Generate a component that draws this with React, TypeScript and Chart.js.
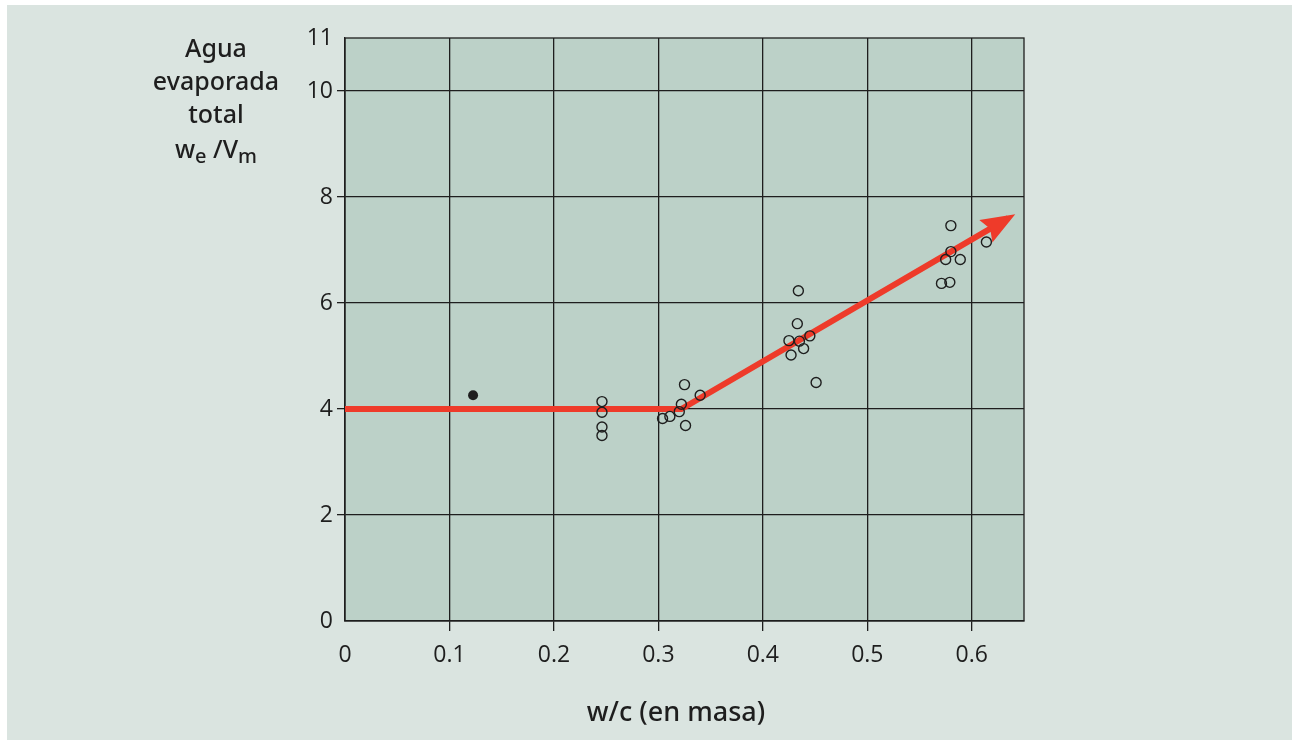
import React, { useEffect, useRef } from "react";
import { Chart, registerables } from "chart.js";

Chart.register(...registerables);

// Axis ticks
const xTickValues = [0, 0.1, 0.2, 0.3, 0.4, 0.5, 0.6];
const yTickValues = [0, 2, 4, 6, 8, 10, 11];

// Red trend line (flat, then rising with an arrow head at the end)
const trendX = [0, 0.322, 0.635];
const trendY = [4.0, 4.0, 7.6];

// Open circles (measured samples)
const openX = [
  0.246, 0.246, 0.246, 0.246,
  0.304, 0.311, 0.32, 0.322, 0.325, 0.326, 0.34,
  0.434, 0.433, 0.425, 0.435, 0.445, 0.439, 0.427, 0.451,
  0.58, 0.58, 0.575, 0.589, 0.571, 0.579, 0.614,
];
const openY = [
  4.14, 3.94, 3.66, 3.5,
  3.82, 3.86, 3.95, 4.09, 4.46, 3.69, 4.26,
  6.23, 5.61, 5.29, 5.28, 5.38, 5.14, 5.02, 4.5,
  7.46, 6.97, 6.82, 6.82, 6.37, 6.39, 7.15,
];

// Filled point
const filledX = [0.1226];
const filledY = [4.26];

const PANEL_BG = "#dae4e0";
const PLOT_BG = "#bcd1c8";
const INK = "#1e1e1e";
const RED = "#ee3b2a";

const plotDecor = {
  id: "plotDecor",
  beforeDraw(chart: any) {
    const { ctx, chartArea: a } = chart;
    ctx.save();
    ctx.fillStyle = PLOT_BG;
    ctx.fillRect(a.left, a.top, a.right - a.left, a.bottom - a.top);
    ctx.restore();
  },
  beforeDatasetsDraw(chart: any) {
    const { ctx, chartArea: a } = chart;
    ctx.save();
    ctx.strokeStyle = INK;
    ctx.lineWidth = 1.3;
    ctx.strokeRect(a.left, a.top, a.right - a.left, a.bottom - a.top);
    ctx.restore();
  },
  afterDatasetsDraw(chart: any) {
    const meta = chart.getDatasetMeta(0);
    const pts = meta.data;
    if (!pts || pts.length < 2) return;
    const p1 = pts[pts.length - 2];
    const p2 = pts[pts.length - 1];
    const dx = p2.x - p1.x;
    const dy = p2.y - p1.y;
    const len = Math.hypot(dx, dy);
    const ux = dx / len;
    const uy = dy / len;
    const tipX = p2.x + ux * 8;
    const tipY = p2.y + uy * 8;
    const headLen = 34;
    const halfW = 13;
    const bx = tipX - ux * headLen;
    const by = tipY - uy * headLen;
    const { ctx } = chart;
    ctx.save();
    ctx.fillStyle = RED;
    ctx.beginPath();
    ctx.moveTo(tipX, tipY);
    ctx.lineTo(bx - uy * halfW, by + ux * halfW);
    ctx.lineTo(bx + ux * 5, by + uy * 5);
    ctx.lineTo(bx + uy * halfW, by - ux * halfW);
    ctx.closePath();
    ctx.fill();
    ctx.restore();
  },
};

export default function App() {
  const canvasRef = useRef<HTMLCanvasElement | null>(null);

  useEffect(() => {
    if (!canvasRef.current) return;
    const tickFont = { family: "'Open Sans', 'Noto Sans', sans-serif", size: 23, weight: 400 as any };
    const chart = new Chart(canvasRef.current, {
      type: "scatter",
      data: {
        datasets: [
          {
            type: "line",
            label: "tendencia",
            data: trendX.map((x, i) => ({ x, y: trendY[i] })),
            borderColor: RED,
            borderWidth: 6,
            pointRadius: 0,
            fill: false,
            tension: 0,
            borderCapStyle: "butt",
            borderJoinStyle: "miter",
            order: 3,
          } as any,
          {
            label: "muestras",
            data: openX.map((x, i) => ({ x, y: openY[i] })),
            pointRadius: 5,
            pointBackgroundColor: "rgba(0,0,0,0)",
            pointBorderColor: INK,
            pointBorderWidth: 1.4,
            order: 1,
          },
          {
            label: "punto",
            data: filledX.map((x, i) => ({ x, y: filledY[i] })),
            pointRadius: 5,
            pointBackgroundColor: INK,
            pointBorderColor: INK,
            pointBorderWidth: 0,
            order: 2,
          },
        ],
      },
      options: {
        animation: false,
        responsive: false,
        maintainAspectRatio: false,
        layout: { padding: { left: 265, right: 268, top: 38, bottom: 59 } },
        plugins: {
          legend: { display: false },
          tooltip: { enabled: false },
          title: { display: false },
        },
        scales: {
          x: {
            type: "linear",
            min: 0,
            max: 0.65,
            afterBuildTicks: (scale: any) => {
              scale.ticks = xTickValues.map((v) => ({ value: v }));
            },
            afterFit: (scale: any) => {
              scale.height = 60;
            },
            ticks: {
              font: tickFont,
              color: INK,
              padding: 11,
              maxRotation: 0,
              autoSkip: false,
              callback: (v: any) => String(v),
            },
            grid: {
              color: (c: any) => (c.tick && c.tick.value === 0 ? "rgba(0,0,0,0)" : INK),
              tickColor: (c: any) => (c.tick && c.tick.value === 0 ? "rgba(0,0,0,0)" : INK),
              lineWidth: 1.3,
              tickLength: 10,
            },
            border: { color: INK, width: 1.3 },
          },
          y: {
            type: "linear",
            min: 0,
            max: 11,
            afterBuildTicks: (scale: any) => {
              scale.ticks = yTickValues.map((v) => ({ value: v }));
            },
            afterFit: (scale: any) => {
              scale.width = 80;
            },
            ticks: {
              font: tickFont,
              color: INK,
              padding: 4,
              autoSkip: false,
              callback: (v: any) => String(v),
            },
            grid: {
              color: (c: any) => (c.tick && (c.tick.value === 0 || c.tick.value === 11) ? "rgba(0,0,0,0)" : INK),
              tickColor: (c: any) => (c.tick && (c.tick.value === 0 || c.tick.value === 11) ? "rgba(0,0,0,0)" : INK),
              lineWidth: 1.3,
              tickLength: 8,
            },
            border: { color: INK, width: 1.3 },
          },
        },
      },
      plugins: [plotDecor],
    });
    return () => chart.destroy();
  }, []);

  const titleFont = "'Noto Sans', 'Open Sans', sans-serif";

  return (
    <div style={{ position: "absolute", left: 0, top: 0, width: 1292, height: 740, overflow: "hidden", background: "#ffffff" }}>
      <div style={{ position: "absolute", left: 7, top: 5, width: 1285, height: 735, background: PANEL_BG }} />
      <canvas
        ref={canvasRef}
        width={1292}
        height={740}
        style={{ position: "absolute", left: 0, top: 0, width: 1292, height: 740 }}
      />
      <div
        style={{
          position: "absolute",
          left: 136,
          top: 31,
          width: 160,
          textAlign: "center",
          fontFamily: titleFont,
          fontSize: 25,
          fontWeight: 500,
          lineHeight: "33px",
          color: INK,
        }}
      >
        <div>Agua</div>
        <div>evaporada</div>
        <div>total</div>
        <div style={{ marginTop: 2 }}>
          w<sub style={{ fontSize: "0.8em", verticalAlign: "-0.25em", lineHeight: 0 }}>e</sub> /V
          <sub style={{ fontSize: "0.8em", verticalAlign: "-0.25em", lineHeight: 0 }}>m</sub>
        </div>
      </div>
      <div
        style={{
          position: "absolute",
          left: 526,
          top: 694,
          width: 300,
          textAlign: "center",
          fontFamily: titleFont,
          fontSize: 27,
          fontWeight: 500,
          lineHeight: "34px",
          color: INK,
        }}
      >
        w/c (en masa)
      </div>
    </div>
  );
}
